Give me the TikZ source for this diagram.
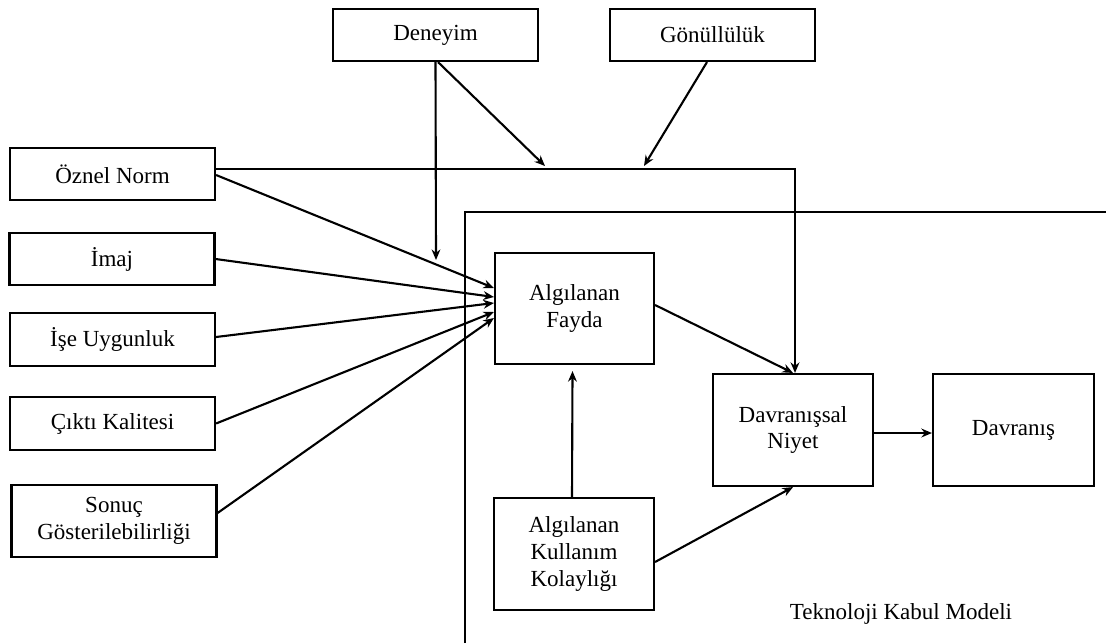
\documentclass[tikz,border=0pt]{standalone}
\usepackage{fontspec}
\setmainfont{Liberation Serif}
\usetikzlibrary{arrows.meta}

\begin{document}
\begin{tikzpicture}[x=0.2mm, y=-0.2mm, line width=1.2pt, >={Stealth[length=6pt,width=5pt]},
  kutu/.style={draw, inner sep=0pt, align=center, font=\fontsize{13.1}{15.2}\selectfont}]
\useasboundingbox (0,0) rectangle (1106,643);

% Top factors
\node[kutu, minimum width=4.1cm, minimum height=1.04cm] (deneyim) at (435.5,35) {Deneyim};
\node[kutu, minimum width=4.1cm, minimum height=1.04cm] (gonullu) at (712.5,35) {Gönüllülük};

% Left factors
\node[kutu, minimum width=4.1cm, minimum height=1.04cm] (oznel) at (112.5,174) {Öznel Norm};
\node[kutu, minimum width=4.1cm, minimum height=1.04cm] (imaj) at (112,259) {İmaj};
\node[kutu, minimum width=4.1cm, minimum height=1.06cm] (ise) at (112.5,339.5) {İşe Uygunluk};
\node[kutu, minimum width=4.1cm, minimum height=1.06cm] (cikti) at (112.5,423.5) {Çıktı Kalitesi};
\node[kutu, minimum width=4.1cm, minimum height=1.44cm] (sonuc) at (114,521) {Sonuç\\Gösterilebilirliği};

% TAM frame and boxes
\draw (465,643) -- (465,212) -- (1106,212);
\node[kutu, minimum width=3.18cm, minimum height=2.22cm] (fayda) at (574.5,308.5) {Algılanan\\Fayda};
\node[kutu, minimum width=3.2cm, minimum height=2.24cm] (kolay) at (574,554) {Algılanan\\Kullanım\\Kolaylığı};
\node[kutu, minimum width=3.2cm, minimum height=2.24cm] (niyet) at (793,430) {Davranışsal\\Niyet};
\node[kutu, minimum width=3.22cm, minimum height=2.24cm] (davranis) at (1013.5,430) {Davranış};
\node[font=\fontsize{13.1}{15.2}\selectfont] (tam) at (901,614) {Teknoloji Kabul Modeli};

% Moderator arrow ends
\coordinate (dtip) at (436,260);
\coordinate (djoin) at (545,166);
\coordinate (gjoin) at (644,166);

% Arrows
\draw[->] (deneyim.south) -- (dtip);
\draw[->] ([xshift=0.05cm]deneyim.south) -- (djoin);
\draw[->] ([xshift=-0.11cm]gonullu.south) -- (gjoin);
\draw[->] ([yshift=0.1cm]oznel.east) -| ([xshift=0.04cm]niyet.north);
\draw[->] ([yshift=-0.02cm]oznel.east) -- ([yshift=0.41cm]fayda.west);
\draw[->] (imaj.east) -- ([yshift=0.23cm]fayda.west);
\draw[->] ([yshift=0.05cm]ise.east) -- ([yshift=0.11cm]fayda.west);
\draw[->] (cikti.east) -- ([yshift=-0.07cm]fayda.west);
\draw[->] ([yshift=0.16cm]sonuc.east) -- ([yshift=-0.19cm]fayda.west);
\draw[->] ([yshift=0.07cm]fayda.east) -- (niyet.north);
\draw[->] ([xshift=-0.04cm]kolay.north) -- ([xshift=-0.04cm,yshift=-0.12cm]fayda.south);
\draw[->] ([yshift=-0.16cm]kolay.east) -- (niyet.south);
\draw[->] ([yshift=-0.06cm]niyet.east) -- ([yshift=-0.06cm]davranis.west);
\end{tikzpicture}
\end{document}
